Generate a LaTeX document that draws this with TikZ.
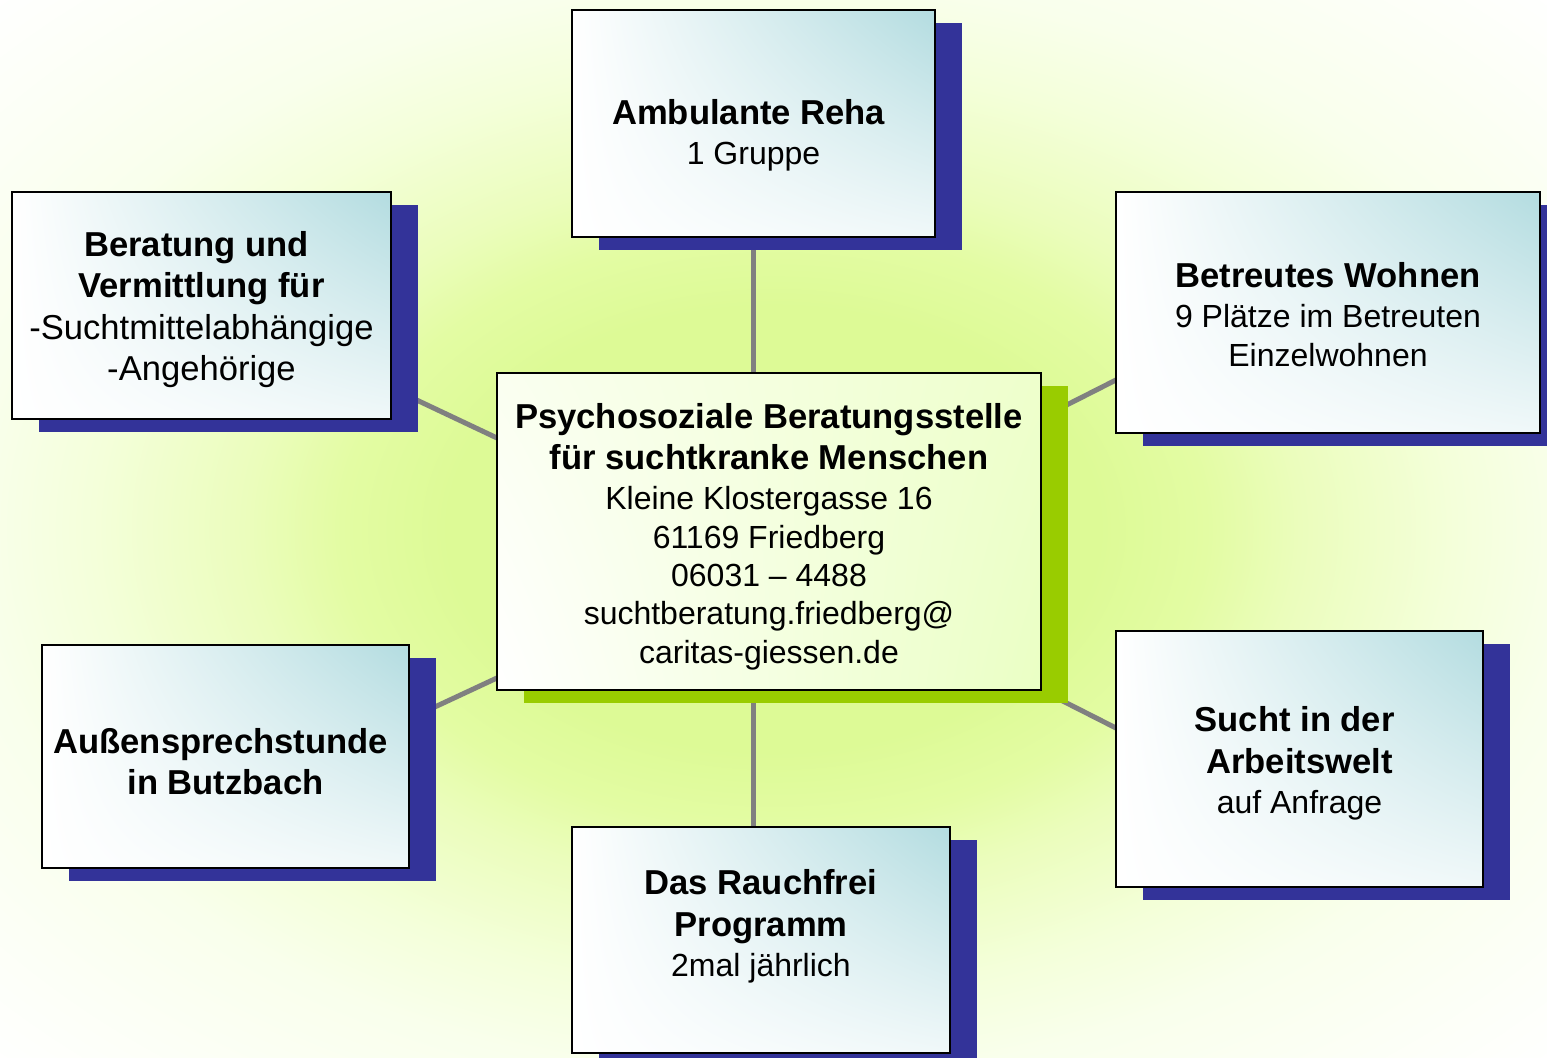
\documentclass[tikz,border=0pt]{standalone}
\usepackage{fontspec}
\setmainfont{Liberation Sans}
\usetikzlibrary{calc,shadings,shadows}
\definecolor{shblue}{HTML}{333399}
\definecolor{shgreen}{HTML}{99CC00}
\definecolor{tealc}{HTML}{B3DCE0}
\definecolor{teallr}{HTML}{F0F8F9}
\definecolor{lineg}{HTML}{808080}
\definecolor{bga}{HTML}{DDFA96}
\definecolor{bgb}{HTML}{E3FCA3}
\definecolor{bgc}{HTML}{EBFDBC}
\definecolor{bgd}{HTML}{F4FFDA}
\definecolor{bge}{HTML}{F9FFEC}
\definecolor{bgf}{HTML}{FCFFF6}
\definecolor{cul}{HTML}{FAFFF0}
\definecolor{cur}{HTML}{EEFFCC}
\definecolor{clr}{HTML}{EAFFC4}
\pgfdeclareradialshading{bgshade}{\pgfpoint{0bp}{0bp}}{color(0bp)=(bga); color(10.5bp)=(bga); color(14bp)=(bgb); color(17bp)=(bgc); color(22bp)=(bgd); color(26bp)=(bge); color(31bp)=(bgf); color(36bp)=(white); color(50bp)=(white)}
\pgfdeclarelayer{bglayer}
\pgfdeclarelayer{linelayer}
\pgfsetlayers{bglayer,linelayer,main}
\newcommand\hb{\fontsize{17.3}{19.2}\selectfont\bfseries}
\newcommand\rb{\fontsize{17.3}{19.2}\selectfont\mdseries}
\newcommand\rg{\fontsize{16}{19.2}\selectfont\mdseries}
\newcommand\tsp{\hspace*{.278em}}
\begin{document}
\begin{tikzpicture}[x=0.5pt,y=-0.5pt,
  box/.style={draw=black, line width=1pt, rectangle, inner sep=0pt, outer sep=0pt,
    upper left=white, lower left=white, upper right=tealc, lower right=teallr,
    drop shadow={shadow xshift=13.5pt, shadow yshift=-6.5pt, opacity=1, fill=shblue, draw=none}},
  cbox/.style={draw=black, line width=1pt, rectangle, inner sep=0pt, outer sep=0pt,
    upper left=cul, lower left=white, upper right=cur, lower right=clr,
    drop shadow={shadow xshift=13.5pt, shadow yshift=-6.5pt, opacity=1, fill=shgreen, draw=none}},
  txt/.style={align=center, inner sep=0pt, text=black, font=\fontsize{16}{19.2}\selectfont},
  conn/.style={draw=lineg, line width=2.5pt}]
\clip (0,0) rectangle (1547,1058);
\begin{pgfonlayer}{bglayer}
\shade[shading=bgshade] (0,0) rectangle (1547,1058);
\end{pgfonlayer}
% boxes
\node[box, minimum width=181.5pt, minimum height=113.5pt] (amb) at (753.5,123.5) {};
\node[box, minimum width=189.5pt, minimum height=113.5pt] (ber) at (201.5,305.5) {};
\node[box, minimum width=212pt, minimum height=120.5pt] (bet) at (1328,312.5) {};
\node[cbox, minimum width=272pt, minimum height=158.5pt] (ctr) at (769,531.5) {};
\node[box, minimum width=183.5pt, minimum height=111.5pt] (aus) at (225.5,756.5) {};
\node[box, minimum width=189pt, minimum height=113pt] (rau) at (761,940) {};
\node[box, minimum width=183.5pt, minimum height=128pt] (suc) at (1299.5,759) {};
% texts
\node[txt] (ambt) at ($(amb.center)+(0,12)$) {\hb Ambulante Reha\tsp\\[0.8pt] \rg 1 Gruppe};
\node[txt] (bert) at ($(ber.center)+(0,4)$) {\hb Beratung und\tsp\\[1.6pt] \hb Vermittlung für\tsp\\[1.6pt] \rb -Suchtmittelabhängige\\[1.6pt] \rb -Angehörige};
\node[txt] (bett) at ($(bet.center)+(0,2)$) {\hb Betreutes Wohnen\\[0.8pt] \rg 9 Plätze im Betreuten\\ \rg Einzelwohnen};
\node[txt] (ctrt) at ($(ctr.center)+(0,5)$) {\hb Psychosoziale Beratungsstelle\\[1.6pt] \hb für suchtkranke Menschen\\[0.8pt] \rg Kleine Klostergasse 16\\ \rg 61169 Friedberg\\ \rg 06031 – 4488\\ \rg suchtberatung.friedberg@\\ \rg caritas-giessen.de};
\node[txt] (aust) at ($(aus.center)+(0,5)$) {\hb Außensprechstunde\tsp\\[1.6pt] \hb in Butzbach};
\node[txt] (raut) at ($(rau.center)+(0,-14)$) {\hb Das Rauchfrei\\[1.6pt] \hb Programm\\[0.8pt] \rg 2mal jährlich};
\node[txt] (suct) at ($(suc.center)+(0,4)$) {\hb Sucht in der\tsp\\[1.6pt] \hb Arbeitswelt\\[0.8pt] \rg auf Anfrage};
% connectors
\begin{pgfonlayer}{linelayer}
\draw[conn] (amb.south) -- (amb.south |- ctr.north);
\draw[conn] (amb.south |- ctr.south) -- (amb.south |- rau.north);
\draw[conn] ($(ber.north east)!0.863!(ber.south east)$) -- ($(ctr.north west)!0.205!(ctr.south west)$);
\draw[conn] ($(aus.north east)!0.332!(aus.south east)$) -- ($(ctr.north west)!0.962!(ctr.south west)$);
\draw[conn] ($(ctr.north east)!0.142!(ctr.south east)$) -- ($(bet.north west)!0.78!(bet.south west)$);
\draw[conn] (ctr.south east) -- ($(suc.north west)!0.379!(suc.south west)$);
\end{pgfonlayer}
\end{tikzpicture}
\end{document}
